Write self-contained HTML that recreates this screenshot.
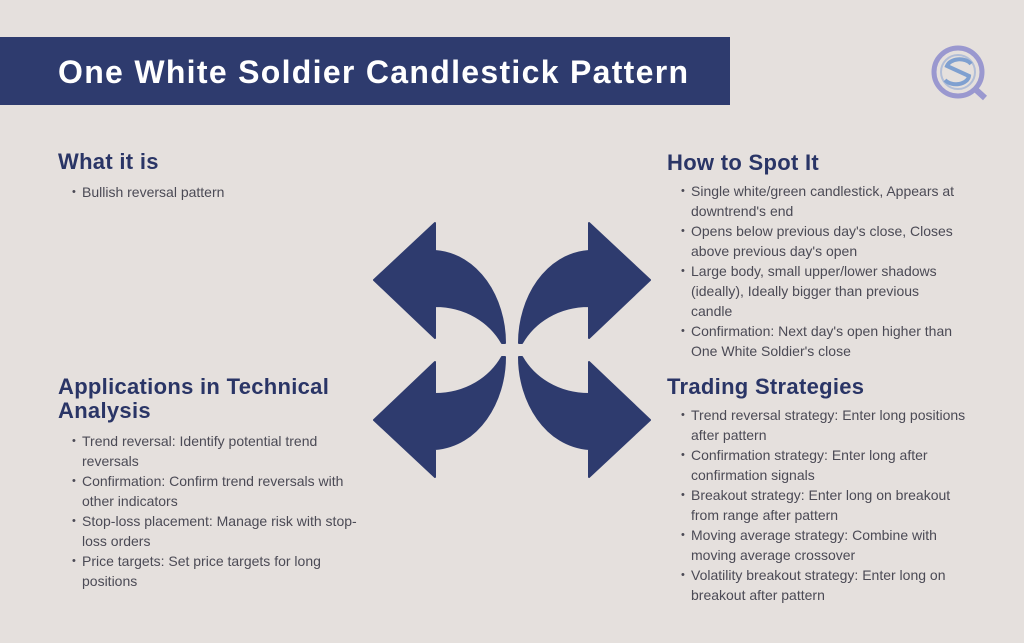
<!DOCTYPE html>
<html><head><meta charset="utf-8"><style>
body{margin:0;width:1024px;height:643px;background:#e5e0dd;position:relative;overflow:hidden;font-family:"Liberation Sans",sans-serif}
.banner{position:absolute;left:0;top:37px;width:730px;height:68px;background:#2e3b6e}
.title{position:absolute;left:58px;top:52px;color:#fff;font-weight:bold;font-size:32px;letter-spacing:1.3px;line-height:40px}
.h{position:absolute;color:#2a3566;font-weight:bold;font-size:22px;letter-spacing:0.3px;line-height:24px}
.t{position:absolute;color:#4b4a55;font-size:14px;line-height:20px}
.t div{position:relative}
.b::before{content:"•";position:absolute;left:-10px;font-size:11px}
</style></head><body>
<div class="banner"></div>
<div class="title">One White Soldier Candlestick Pattern</div>
<svg style="position:absolute;left:925px;top:38px" width="70" height="70" viewBox="0 0 70 70">
<circle cx="33" cy="34" r="24" fill="none" stroke="#9a98cf" stroke-width="5"/>
<circle cx="33" cy="34" r="17" fill="none" stroke="#8fa7d4" stroke-width="2" opacity="0.6"/>
<path d="M46 26 A13 9 0 0 0 22 28 L44 38 A13 9 0 0 1 20 42" fill="none" stroke="#7fa0d0" stroke-width="4"/>
<path d="M49 50 L60 60" stroke="#9a98cf" stroke-width="6"/>
</svg>
<div class="h" style="left:58px;top:150px">What it is</div>
<div class="t" style="left:82px;top:182px"><div class="b">Bullish reversal pattern</div></div>
<div class="h" style="left:667px;top:151px">How to Spot It</div>
<div class="t" style="left:691px;top:181px">
<div class="b">Single white/green candlestick, Appears at</div><div>downtrend's end</div>
<div class="b">Opens below previous day's close, Closes</div><div>above previous day's open</div>
<div class="b">Large body, small upper/lower shadows</div><div>(ideally), Ideally bigger than previous</div><div>candle</div>
<div class="b">Confirmation: Next day's open higher than</div><div>One White Soldier's close</div>
</div>
<div class="h" style="left:58px;top:375px">Applications in Technical<br>Analysis</div>
<div class="t" style="left:82px;top:431px">
<div class="b">Trend reversal: Identify potential trend</div><div>reversals</div>
<div class="b">Confirmation: Confirm trend reversals with</div><div>other indicators</div>
<div class="b">Stop-loss placement: Manage risk with stop-</div><div>loss orders</div>
<div class="b">Price targets: Set price targets for long</div><div>positions</div>
</div>
<div class="h" style="left:667px;top:375px">Trading Strategies</div>
<div class="t" style="left:691px;top:405px">
<div class="b">Trend reversal strategy: Enter long positions</div><div>after pattern</div>
<div class="b">Confirmation strategy: Enter long after</div><div>confirmation signals</div>
<div class="b">Breakout strategy: Enter long on breakout</div><div>from range after pattern</div>
<div class="b">Moving average strategy: Combine with</div><div>moving average crossover</div>
<div class="b">Volatility breakout strategy: Enter long on</div><div>breakout after pattern</div>
</div>
<svg style="position:absolute;left:0;top:0" width="1024" height="643">
<defs><path id="a" d="M374 280 L435 223 L435 251 C478 254 505 298 505 343 L502 343 C490 322 466 306 435 306 L435 338 Z" fill="#2e3b6e" stroke="#2e3b6e" stroke-width="2" stroke-linejoin="round"/></defs>
<use href="#a"/>
<use href="#a" transform="translate(1024 0) scale(-1 1)"/>
<use href="#a" transform="translate(0 700) scale(1 -1)"/>
<use href="#a" transform="translate(1024 700) scale(-1 -1)"/>
</svg>
</body></html>
